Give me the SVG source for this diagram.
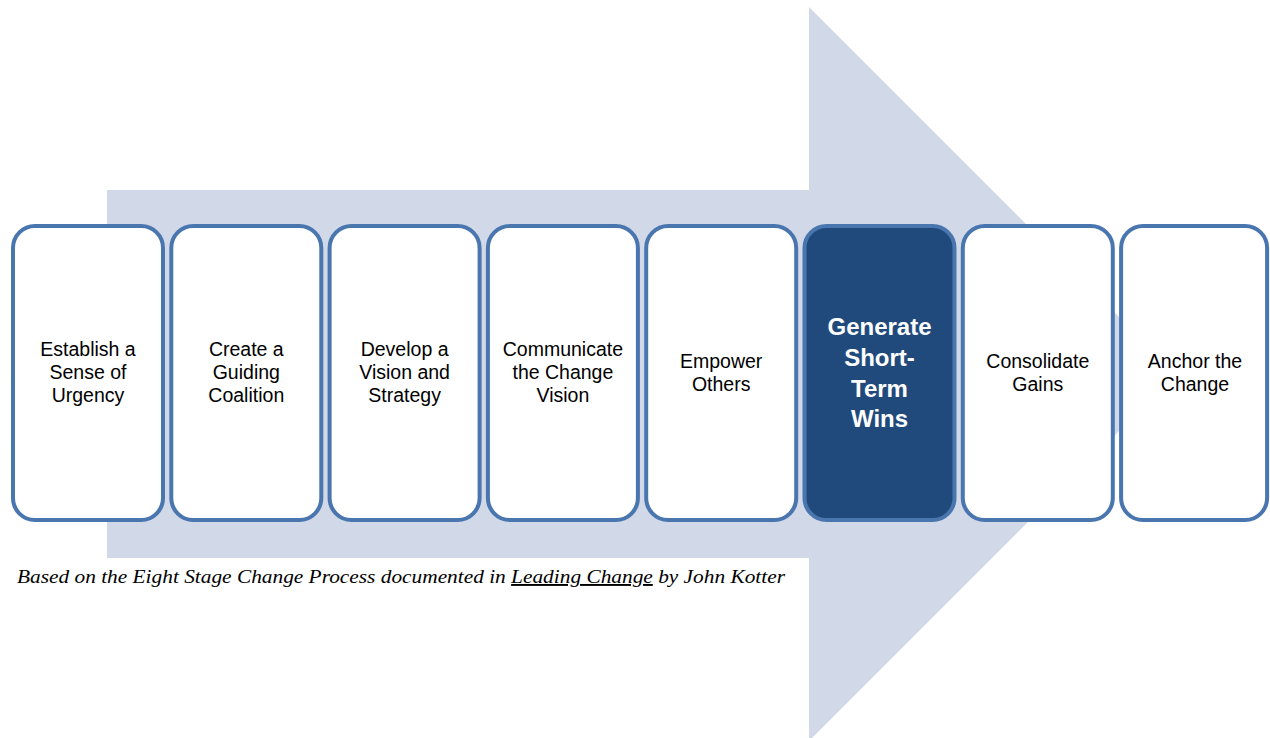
<svg xmlns="http://www.w3.org/2000/svg" width="1270" height="738" viewBox="0 0 1270 738">
<style>
.box{fill:#ffffff;stroke:#4a76b0;stroke-width:4}
.dark{fill:#214a7c;stroke:#4a76b0;stroke-width:4}
.lbl{font-family:"Liberation Sans",Arial,sans-serif;font-size:19.5px;fill:#000;text-anchor:middle}
.big{font-family:"Liberation Sans",Arial,sans-serif;font-size:24px;font-weight:bold;fill:#fff;text-anchor:middle}
.cap{font-family:"Liberation Serif","Times New Roman",serif;font-style:italic;font-size:19px;fill:#000}
</style>
<rect width="1270" height="738" fill="#ffffff"/>
<polygon id="arrow" points="107,190 809,190 809,7 1176,374 809,741 809,558 107,558" fill="#d1d8e7"/>
<g id="nodes">
<g id="n1"><rect class="box" x="13" y="226" width="150" height="294" rx="22"/>
<text class="lbl"><tspan x="88" y="356">Establish a</tspan><tspan x="88" y="379">Sense of</tspan><tspan x="88" y="402">Urgency</tspan></text></g>
<g id="n2"><rect class="box" x="171.3" y="226" width="150" height="294" rx="22"/>
<text class="lbl"><tspan x="246.3" y="356">Create a</tspan><tspan x="246.3" y="379">Guiding</tspan><tspan x="246.3" y="402">Coalition</tspan></text></g>
<g id="n3"><rect class="box" x="329.6" y="226" width="150" height="294" rx="22"/>
<text class="lbl"><tspan x="404.6" y="356">Develop a</tspan><tspan x="404.6" y="379">Vision and</tspan><tspan x="404.6" y="402">Strategy</tspan></text></g>
<g id="n4"><rect class="box" x="487.9" y="226" width="150" height="294" rx="22"/>
<text class="lbl"><tspan x="562.9" y="356">Communicate</tspan><tspan x="562.9" y="379">the Change</tspan><tspan x="562.9" y="402">Vision</tspan></text></g>
<g id="n5"><rect class="box" x="646.2" y="226" width="150" height="294" rx="22"/>
<text class="lbl"><tspan x="721.2" y="368">Empower</tspan><tspan x="721.2" y="391">Others</tspan></text></g>
<g id="n6"><rect class="dark" x="804.5" y="226" width="150" height="294" rx="22"/>
<text class="big"><tspan x="879.5" y="335">Generate</tspan><tspan x="879.5" y="366">Short-</tspan><tspan x="879.5" y="397">Term</tspan><tspan x="879.5" y="427">Wins</tspan></text></g>
<g id="n7"><rect class="box" x="962.8" y="226" width="150" height="294" rx="22"/>
<text class="lbl"><tspan x="1037.8" y="368">Consolidate</tspan><tspan x="1037.8" y="391">Gains</tspan></text></g>
<g id="n8"><rect class="box" x="1121.1" y="226" width="146" height="294" rx="22"/>
<text class="lbl"><tspan x="1195" y="368">Anchor the</tspan><tspan x="1195" y="391">Change</tspan></text></g>
</g>
<g id="connectors"></g>
<text class="cap" x="17" y="583" textLength="768" lengthAdjust="spacingAndGlyphs">Based on the Eight Stage Change Process documented in <tspan text-decoration="underline">Leading Change</tspan> by John Kotter</text>
</svg>
